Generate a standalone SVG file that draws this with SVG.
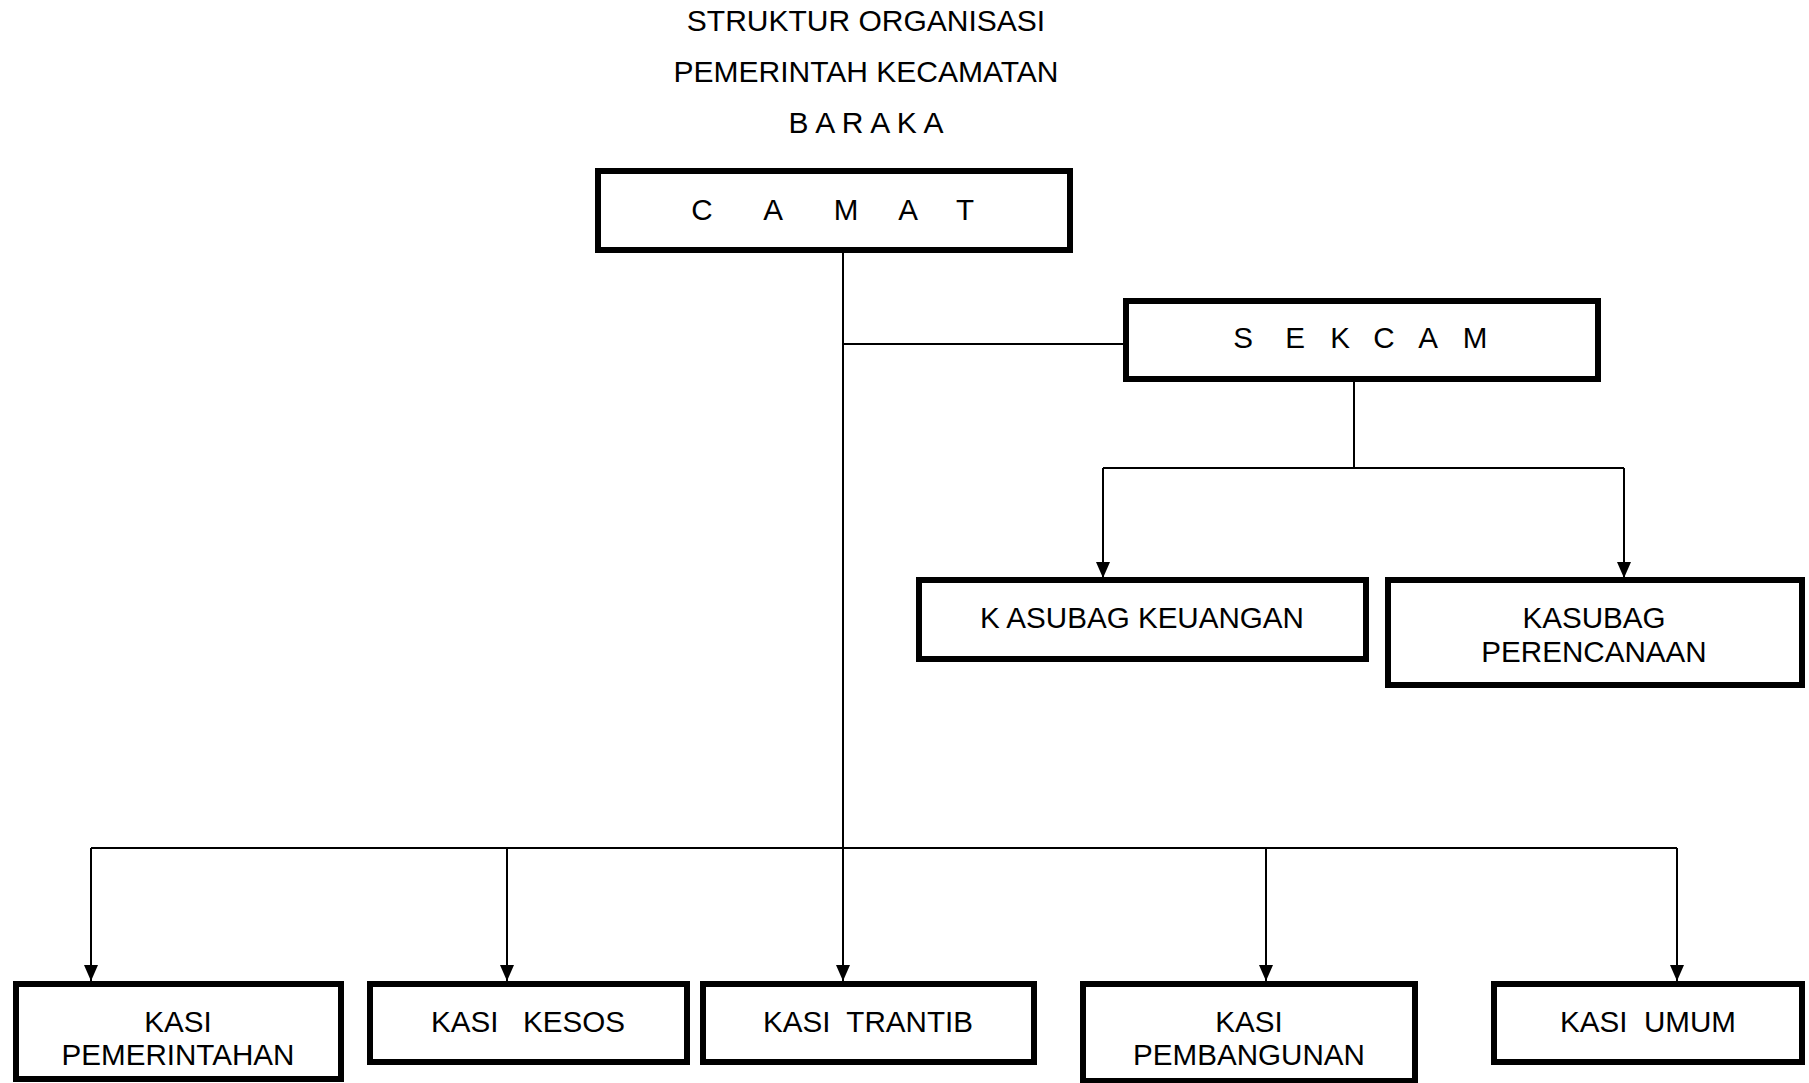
<svg xmlns="http://www.w3.org/2000/svg" width="1809" height="1083" viewBox="0 0 1809 1083">
<style>
.box{fill:#fff;stroke:#000;stroke-width:6}
.t{font-family:"Liberation Sans",Arial,sans-serif;font-size:29.6px;fill:#000;text-anchor:middle}
.h{font-size:30px}
.c{fill:none;stroke:#000;stroke-width:2}
</style>
<defs>
<marker id="arr" markerUnits="userSpaceOnUse" markerWidth="16" markerHeight="14" refX="16" refY="7" orient="auto">
<path d="M0,0 L16,7 L0,14 z" fill="#000"/>
</marker>
</defs>
<rect width="1809" height="1083" fill="#fff"/>
<g id="title">
<text class="t h" x="866" y="31">STRUKTUR ORGANISASI</text>
<text class="t h" x="866" y="82">PEMERINTAH KECAMATAN</text>
<text class="t h" x="866" y="133">B A R A K A</text>
</g>
<g id="connectors">
<path class="c" d="M843,250 V848"/>
<path class="c" d="M843,344 H1126"/>
<path class="c" d="M1354,381 V468 M1103,468 H1624"/>
<path class="c" d="M1103,468 V578" marker-end="url(#arr)"/>
<path class="c" d="M1624,468 V578" marker-end="url(#arr)"/>
<path class="c" d="M91,848 H1677"/>
<path class="c" d="M91,848 V981" marker-end="url(#arr)"/>
<path class="c" d="M507,848 V981" marker-end="url(#arr)"/>
<path class="c" d="M843,848 V981" marker-end="url(#arr)"/>
<path class="c" d="M1266,848 V981" marker-end="url(#arr)"/>
<path class="c" d="M1677,848 V981" marker-end="url(#arr)"/>
</g>
<g id="camat">
<rect class="box" x="598" y="171" width="472" height="79"/>
<text class="t" y="220"><tspan x="702">C</tspan><tspan x="773">A</tspan><tspan x="846">M</tspan><tspan x="908">A</tspan><tspan x="965">T</tspan></text>
</g>
<g id="sekcam">
<rect class="box" x="1126" y="301" width="472" height="78"/>
<text class="t" y="348"><tspan x="1243">S</tspan><tspan x="1295">E</tspan><tspan x="1340">K</tspan><tspan x="1384">C</tspan><tspan x="1428">A</tspan><tspan x="1475">M</tspan></text>
</g>
<g id="kasubag-keuangan">
<rect class="box" x="919" y="580" width="447" height="79"/>
<text class="t" x="1142" y="628">K ASUBAG KEUANGAN</text>
</g>
<g id="kasubag-perencanaan">
<rect class="box" x="1388" y="580" width="414" height="105"/>
<text class="t" x="1594" y="628">KASUBAG</text>
<text class="t" x="1594" y="662">PERENCANAAN</text>
</g>
<g id="kasi-pemerintahan">
<rect class="box" x="16" y="984" width="325" height="95"/>
<text class="t" x="178" y="1032">KASI</text>
<text class="t" x="178" y="1065">PEMERINTAHAN</text>
</g>
<g id="kasi-kesos">
<rect class="box" x="370" y="984" width="317" height="78"/>
<text class="t" x="528" y="1032" xml:space="preserve">KASI   KESOS</text>
</g>
<g id="kasi-trantib">
<rect class="box" x="703" y="984" width="331" height="78"/>
<text class="t" x="868" y="1032" xml:space="preserve">KASI  TRANTIB</text>
</g>
<g id="kasi-pembangunan">
<rect class="box" x="1083" y="984" width="332" height="97"/>
<text class="t" x="1249" y="1032">KASI</text>
<text class="t" x="1249" y="1065">PEMBANGUNAN</text>
</g>
<g id="kasi-umum">
<rect class="box" x="1494" y="984" width="308" height="78"/>
<text class="t" x="1648" y="1032" xml:space="preserve">KASI  UMUM</text>
</g>
</svg>
